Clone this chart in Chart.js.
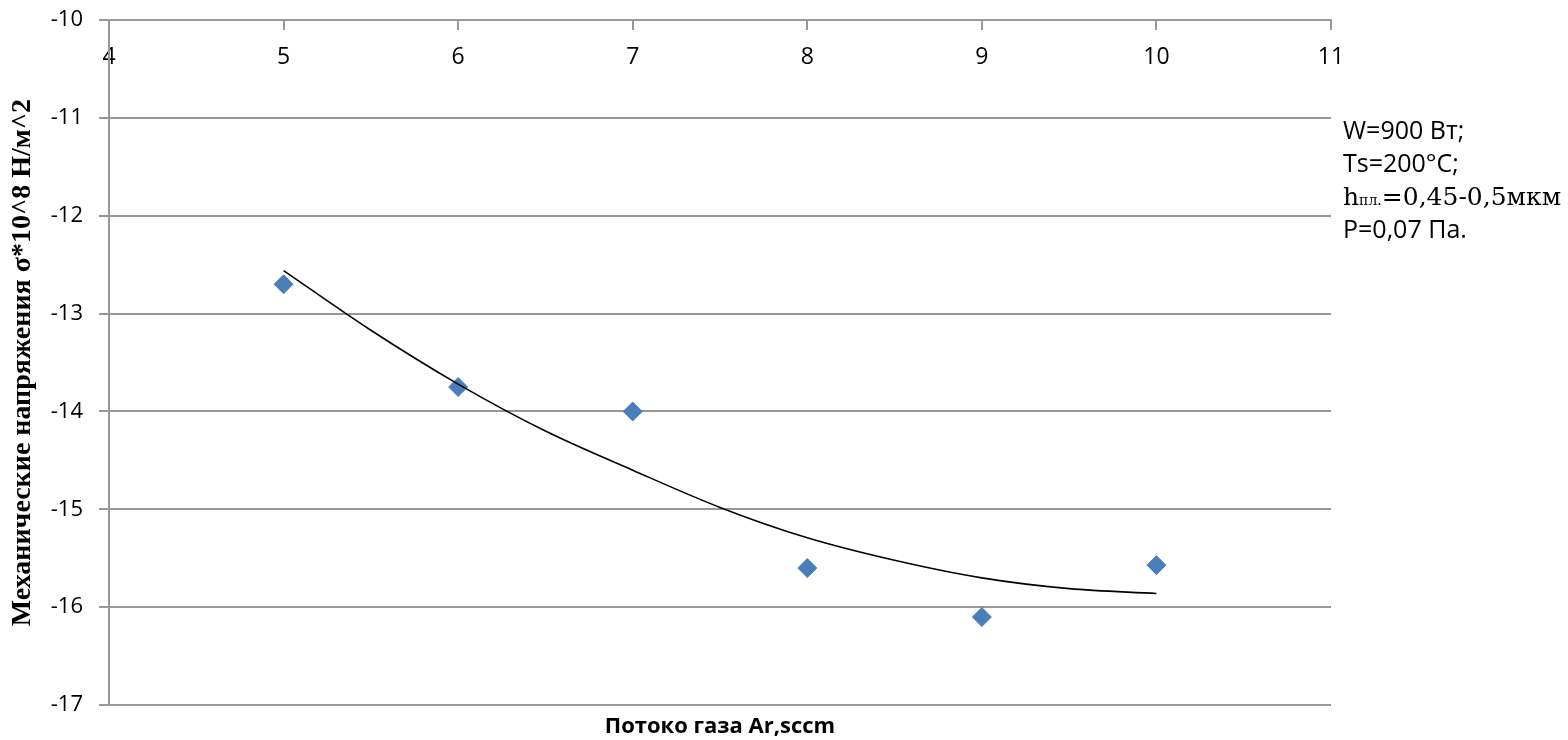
<!DOCTYPE html>
<html>
<head>
<meta charset="utf-8">
<script src="https://cdn.jsdelivr.net/npm/chart.js@4.4.1/dist/chart.umd.min.js"></script>
<style>
  html, body { margin: 0; padding: 0; background: #fff; }
</style>
</head>
<body>
<canvas id="stressChart" width="1568" height="740"></canvas>
<script>
const flowRates = [5, 6, 7, 8, 9, 10];
const stressValues = [-12.7, -13.75, -14.0, -15.6, -16.1, -15.57];

// polynomial trend line as drawn in the figure
const trendFlow = [5, 5.5, 6, 6.5, 7, 7.5, 8, 8.5, 9, 9.5, 10];
const trendStress = [-12.56, -13.17, -13.72, -14.2, -14.6, -14.98, -15.29, -15.52, -15.70, -15.81, -15.86];

const xTicks = [4, 5, 6, 7, 8, 9, 10, 11];
const yTicks = [-10, -11, -12, -13, -14, -15, -16, -17];

const xTitle = 'Потоко газа Ar,sccm';
const yTitle = 'Механические напряжения σ*10^8 Н/м^2';

// side notes, each line is a list of [text, font] pieces
const noteLines = [
  [['W=900 Вт;', '25px "Open Sans"']],
  [['Ts=200°C;', '25px "Open Sans"']],
  [['h', '25px "DejaVu Serif"'], ['пл.', '14px "DejaVu Serif"'], ['=0,45-0,5мкм', '25px "DejaVu Serif"']],
  [['P=0,07 Па.', '25px "Open Sans"']]
];

const gridColor = '#989898';

const notesPlugin = {
  id: 'sideNotes',
  afterDraw(chart) {
    const ctx = chart.ctx;
    const left = chart.chartArea.right + 12;
    ctx.save();
    ctx.fillStyle = '#000';
    ctx.textBaseline = 'alphabetic';
    noteLines.forEach((parts, i) => {
      let x = left;
      const y = 139 + i * 33;
      parts.forEach(([text, font]) => {
        ctx.font = font;
        ctx.fillText(text, x, y);
        x += ctx.measureText(text).width;
      });
    });
    ctx.restore();
  }
};

document.addEventListener('DOMContentLoaded', () => {
  const ctx = document.getElementById('stressChart').getContext('2d');

  new Chart(ctx, {
    type: 'scatter',
    data: {
      datasets: [
        {
          label: 'trend',
          data: trendFlow.map((x, i) => ({ x: x, y: trendStress[i] })),
          showLine: true,
          borderColor: '#000',
          borderWidth: 1.6,
          pointRadius: 0,
          cubicInterpolationMode: 'monotone',
          order: 0
        },
        {
          label: 'stress',
          data: flowRates.map((x, i) => ({ x: x, y: stressValues[i] })),
          pointStyle: 'rectRot',
          pointRadius: 9.5,
          backgroundColor: '#4a7ebb',
          borderColor: '#4a7ebb',
          borderWidth: 1,
          order: 1
        }
      ]
    },
    options: {
      responsive: false,
      animation: false,
      layout: { padding: { left: 0, top: 0, right: 237, bottom: 0 } },
      plugins: {
        legend: { display: false },
        tooltip: { enabled: false },
        title: {
          display: true,
          text: xTitle,
          position: 'bottom',
          fullSize: false,
          color: '#000',
          font: { family: '"Open Sans"', size: 22, weight: 'bold' },
          padding: { top: 8.5, bottom: 0 }
        }
      },
      scales: {
        x: {
          type: 'linear',
          position: 'top',
          min: 4,
          max: 11,
          afterBuildTicks: s => { s.ticks = xTicks.map(v => ({ value: v })); },
          afterFit: s => { s.height = 20; },
          border: { display: true, color: gridColor, width: 2 },
          grid: { drawOnChartArea: false, drawTicks: true, tickLength: -10, color: gridColor, lineWidth: 2 },
          // mirrored labels sit below the top axis line, inside the plot
          ticks: { color: '#000', mirror: true, padding: 24, maxRotation: 0, autoSkip: false, font: { family: '"Open Sans"', size: 23 } }
        },
        y: {
          type: 'linear',
          position: 'left',
          min: -17,
          max: -10,
          afterBuildTicks: s => { s.ticks = yTicks.map(v => ({ value: v })); },
          afterFit: s => { s.width = 109; s.paddingTop = 0; s.paddingBottom = 0; },
          border: { display: true, color: gridColor, width: 2 },
          grid: { color: gridColor, lineWidth: 2, tickLength: 10 },
          ticks: { color: '#000', padding: 16, font: { family: '"Open Sans"', size: 22 } },
          title: {
            display: true,
            text: yTitle,
            color: '#000',
            font: { family: '"Liberation Serif"', size: 28, weight: 'bold' },
            padding: { top: 6, bottom: 0 }
          }
        }
      }
    },
    plugins: [notesPlugin]
  });
});
</script>
</body>
</html>
